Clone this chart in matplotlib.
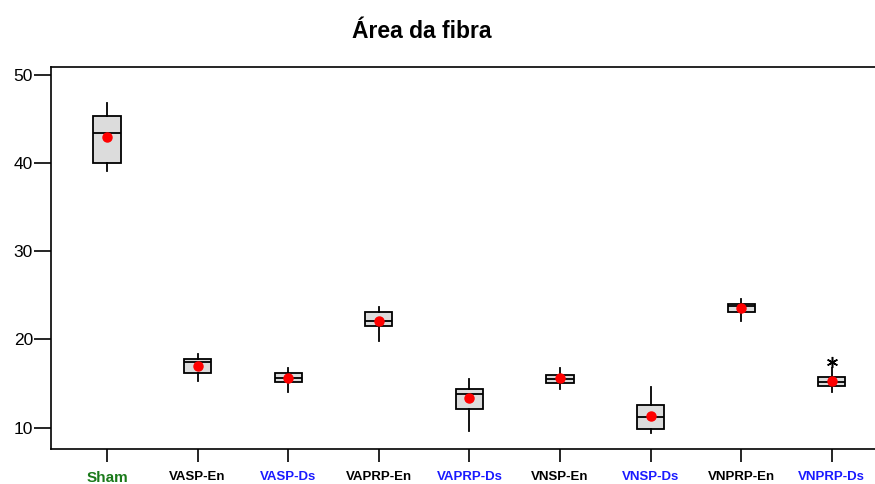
import matplotlib
matplotlib.use("Agg")
import matplotlib.pyplot as plt

plt.rcParams['font.family'] = ['Liberation Sans', 'DejaVu Sans']

categories = ["Sham", "VASP-En", "VASP-Ds", "VAPRP-En", "VAPRP-Ds",
              "VNSP-En", "VNSP-Ds", "VNPRP-En", "VNPRP-Ds"]
label_colors = ["#1a7a1a", "black", "#1a1aff", "black", "#1a1aff",
                "black", "#1a1aff", "black", "#1a1aff"]
whisker_low = [39.1, 15.3, 14.05, 19.85, 9.65, 14.35, 9.35, 22.15, 14.1]
q1 = [40.05, 16.2, 15.15, 21.5, 12.1, 15.1, 9.85, 23.15, 14.7]
median = [43.4, 17.45, 15.63, 22.13, 13.8, 15.55, 11.2, 23.85, 15.15]
q3 = [45.35, 17.75, 16.15, 23.1, 14.4, 15.92, 12.55, 24.0, 15.75]
whisker_high = [46.8, 18.35, 16.75, 23.65, 15.5, 16.73, 14.6, 24.6, 16.73]
means = [42.95, 17.0, 15.62, 22.15, 13.38, 15.6, 11.36, 23.52, 15.33]
outliers = [[], [], [], [], [], [], [], [], [17.5]]
yticks = [10, 20, 30, 40, 50]

fig = plt.figure(figsize=(8.75, 4.84), dpi=100)
ax = fig.add_axes([51/875, 1-449/484, 1-51/875, (449-67)/484])

stats = []
for i, c in enumerate(categories):
    stats.append(dict(label=c, whislo=whisker_low[i], q1=q1[i], med=median[i],
                      q3=q3[i], whishi=whisker_high[i], mean=means[i], fliers=[]))

positions = list(range(len(categories)))
ax.bxp(stats, positions=positions, widths=0.3, patch_artist=True,
       showcaps=False, showfliers=False, showmeans=False,
       boxprops=dict(facecolor="#dcdcdc", edgecolor="black", linewidth=1.3),
       medianprops=dict(color="black", linewidth=1.3),
       whiskerprops=dict(color="black", linewidth=1.3))

ax.plot(positions, means, linestyle="none", marker="o", markersize=6.5,
        color="red", zorder=5)
for i, o in enumerate(outliers):
    if o:
        ax.plot([i]*len(o), o, linestyle="none", marker=(6, 2, 0),
                markersize=8, color="black", markeredgewidth=1.1)

ax.set_xlim(-0.618, 8.477)
ax.set_ylim(7.58, 50.9)
ax.set_yticks(yticks)
ax.set_yticklabels([str(t) for t in yticks], fontsize=12.5)
ax.set_xticks(positions)
ax.set_xticklabels(categories)
for lab, col, cat in zip(ax.get_xticklabels(), label_colors, categories):
    lab.set_color(col)
    lab.set_fontweight("bold")
    lab.set_fontsize(11 if cat == "Sham" else 9.5)

ax.tick_params(axis="y", length=12, width=1.2, pad=1)
ax.tick_params(axis="x", length=9, width=1.2, pad=7)
for s in ["left", "top", "bottom"]:
    ax.spines[s].set_linewidth(1.2)
ax.spines["right"].set_visible(False)

fig.text(422/875, 1-32/484, "Área da fibra", ha="center", va="center",
         fontsize=16.5, fontweight="bold")

fig.savefig("out.png", dpi=100)
